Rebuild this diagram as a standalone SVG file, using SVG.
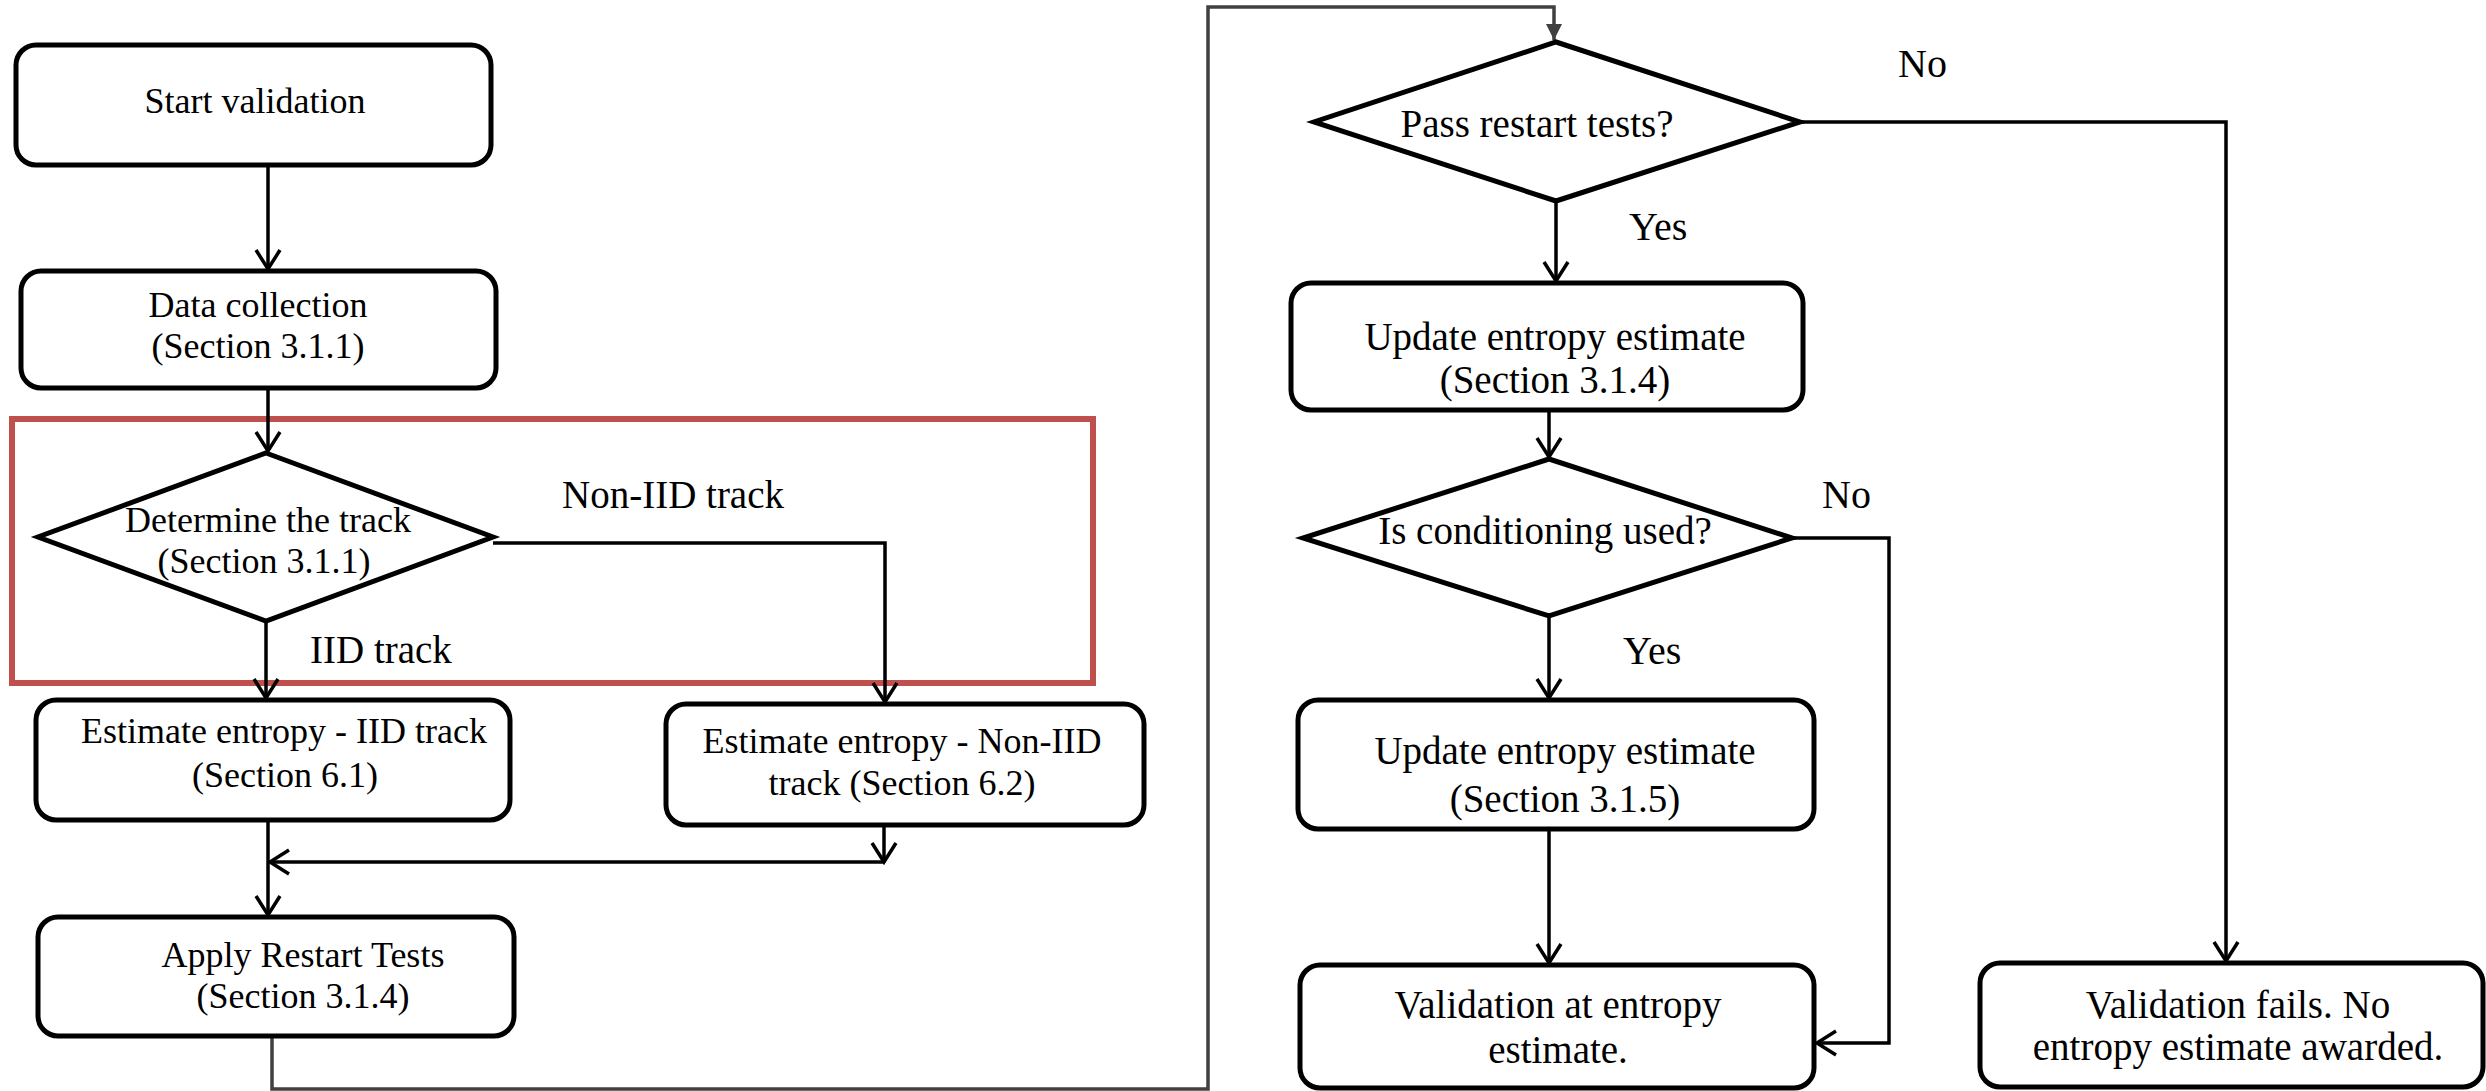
<svg xmlns="http://www.w3.org/2000/svg" width="2486" height="1091" viewBox="0 0 2486 1091">
  <style>
    .box { fill: #fff; stroke: #000; stroke-width: 5; }
    .dia { fill: #fff; stroke: #000; stroke-width: 5; stroke-linejoin: miter; }
    .t { font-family: "Liberation Serif", "Times New Roman", serif; font-size: 36px; fill: #000; text-anchor: middle; }
    .tr { font-family: "Liberation Serif", "Times New Roman", serif; font-size: 39px; fill: #000; text-anchor: middle; }
    .lbl { font-family: "Liberation Serif", "Times New Roman", serif; font-size: 39px; fill: #000; }
    .lbl2 { font-family: "Liberation Serif", "Times New Roman", serif; font-size: 40px; fill: #000; }
    .c { fill: none; stroke: #000; stroke-width: 3.5; }
    .loop { fill: none; stroke: #404040; stroke-width: 3.5; }
  </style>
  <defs>
    <marker id="open" markerUnits="userSpaceOnUse" viewBox="-22 -15 24 30" refX="0" refY="0" markerWidth="24" markerHeight="30" orient="auto" overflow="visible">
      <path d="M-19,-12 L0,0 L-19,12" fill="none" stroke="#000" stroke-width="3.5"/>
    </marker>
    <marker id="fill" markerUnits="userSpaceOnUse" viewBox="-18 -10 20 20" refX="0" refY="0" markerWidth="20" markerHeight="20" orient="auto" overflow="visible">
      <path d="M-16,-8 L0,0 L-16,8 Z" fill="#404040"/>
    </marker>
  </defs>

  <rect id="highlight" x="12" y="419" width="1081" height="264" fill="none" stroke="#C0504D" stroke-width="6"/>

  <g id="connectors">
    <path class="c" d="M268,165 V269" marker-end="url(#open)"/>
    <path class="c" d="M268,388 V451" marker-end="url(#open)"/>
    <path class="c" d="M266,621 V698" marker-end="url(#open)"/>
    <path class="c" d="M493,543 H885 V702" marker-end="url(#open)"/>
    <path class="c" d="M268,820 V915" marker-end="url(#open)"/>
    <path class="c" d="M884,825 V862" marker-end="url(#open)"/>
    <path class="c" d="M884,862 H270" marker-end="url(#open)"/>
    <path class="loop" d="M272,1037 V1089 H1208 V7 H1554 V40" marker-end="url(#fill)"/>
    <path class="c" d="M1556,201 V281" marker-end="url(#open)"/>
    <path class="c" d="M1800,122 H2226 V961" marker-end="url(#open)"/>
    <path class="c" d="M1549,410 V457" marker-end="url(#open)"/>
    <path class="c" d="M1549,616 V698" marker-end="url(#open)"/>
    <path class="c" d="M1792,538 H1889 V1043 H1817" marker-end="url(#open)"/>
    <path class="c" d="M1549,829 V963" marker-end="url(#open)"/>
  </g>

  <g id="start">
    <rect class="box" x="16" y="45" width="475" height="120" rx="20"/>
    <text class="t" x="255" y="113">Start validation</text>
  </g>
  <g id="data">
    <rect class="box" x="21" y="271" width="475" height="117" rx="20"/>
    <text class="t" x="258" y="317">Data collection</text>
    <text class="t" x="258" y="358">(Section 3.1.1)</text>
  </g>
  <g id="determine">
    <polygon class="dia" points="266,453 493,537 266,621 38,537"/>
    <text class="t" x="268" y="532">Determine the track</text>
    <text class="t" x="264" y="573">(Section 3.1.1)</text>
  </g>
  <g id="label-iid">
    <text class="lbl" x="310" y="663">IID track</text>
  </g>
  <g id="label-noniid">
    <text class="lbl" x="562" y="508">Non-IID track</text>
  </g>
  <g id="est-iid">
    <rect class="box" x="36" y="700" width="474" height="120" rx="20"/>
    <text class="t" x="284" y="743">Estimate entropy - IID track</text>
    <text class="t" x="285" y="787">(Section 6.1)</text>
  </g>
  <g id="est-noniid">
    <rect class="box" x="666" y="704" width="478" height="121" rx="20"/>
    <text class="t" x="902" y="753">Estimate entropy - Non-IID</text>
    <text class="t" x="902" y="795">track (Section 6.2)</text>
  </g>
  <g id="apply">
    <rect class="box" x="38" y="917" width="476" height="119" rx="20"/>
    <text class="t" x="303" y="967">Apply Restart Tests</text>
    <text class="t" x="303" y="1008">(Section 3.1.4)</text>
  </g>
  <g id="pass">
    <polygon class="dia" points="1556,42 1800,122 1556,201 1314,122"/>
    <text class="tr" x="1537" y="137">Pass restart tests?</text>
  </g>
  <g id="label-no1">
    <text class="lbl2" x="1898" y="77">No</text>
  </g>
  <g id="label-yes1">
    <text class="lbl2" x="1629" y="240">Yes</text>
  </g>
  <g id="update1">
    <rect class="box" x="1291" y="283" width="512" height="127" rx="20"/>
    <text class="tr" x="1555" y="350">Update entropy estimate</text>
    <text class="tr" x="1555" y="393">(Section 3.1.4)</text>
  </g>
  <g id="conditioning">
    <polygon class="dia" points="1549,459 1792,538 1549,616 1303,538"/>
    <text class="tr" x="1545" y="544">Is conditioning used?</text>
  </g>
  <g id="label-no2">
    <text class="lbl2" x="1822" y="508">No</text>
  </g>
  <g id="label-yes2">
    <text class="lbl2" x="1623" y="664">Yes</text>
  </g>
  <g id="update2">
    <rect class="box" x="1298" y="700" width="516" height="129" rx="20"/>
    <text class="tr" x="1565" y="764">Update entropy estimate</text>
    <text class="tr" x="1565" y="812">(Section 3.1.5)</text>
  </g>
  <g id="validation">
    <rect class="box" x="1300" y="965" width="514" height="123" rx="20"/>
    <text class="tr" x="1558" y="1018">Validation at entropy</text>
    <text class="tr" x="1558" y="1063">estimate.</text>
  </g>
  <g id="fail">
    <rect class="box" x="1980" y="963" width="503" height="124" rx="20"/>
    <text class="tr" x="2238" y="1018">Validation fails. No</text>
    <text class="tr" x="2238" y="1060">entropy estimate awarded.</text>
  </g>
</svg>
